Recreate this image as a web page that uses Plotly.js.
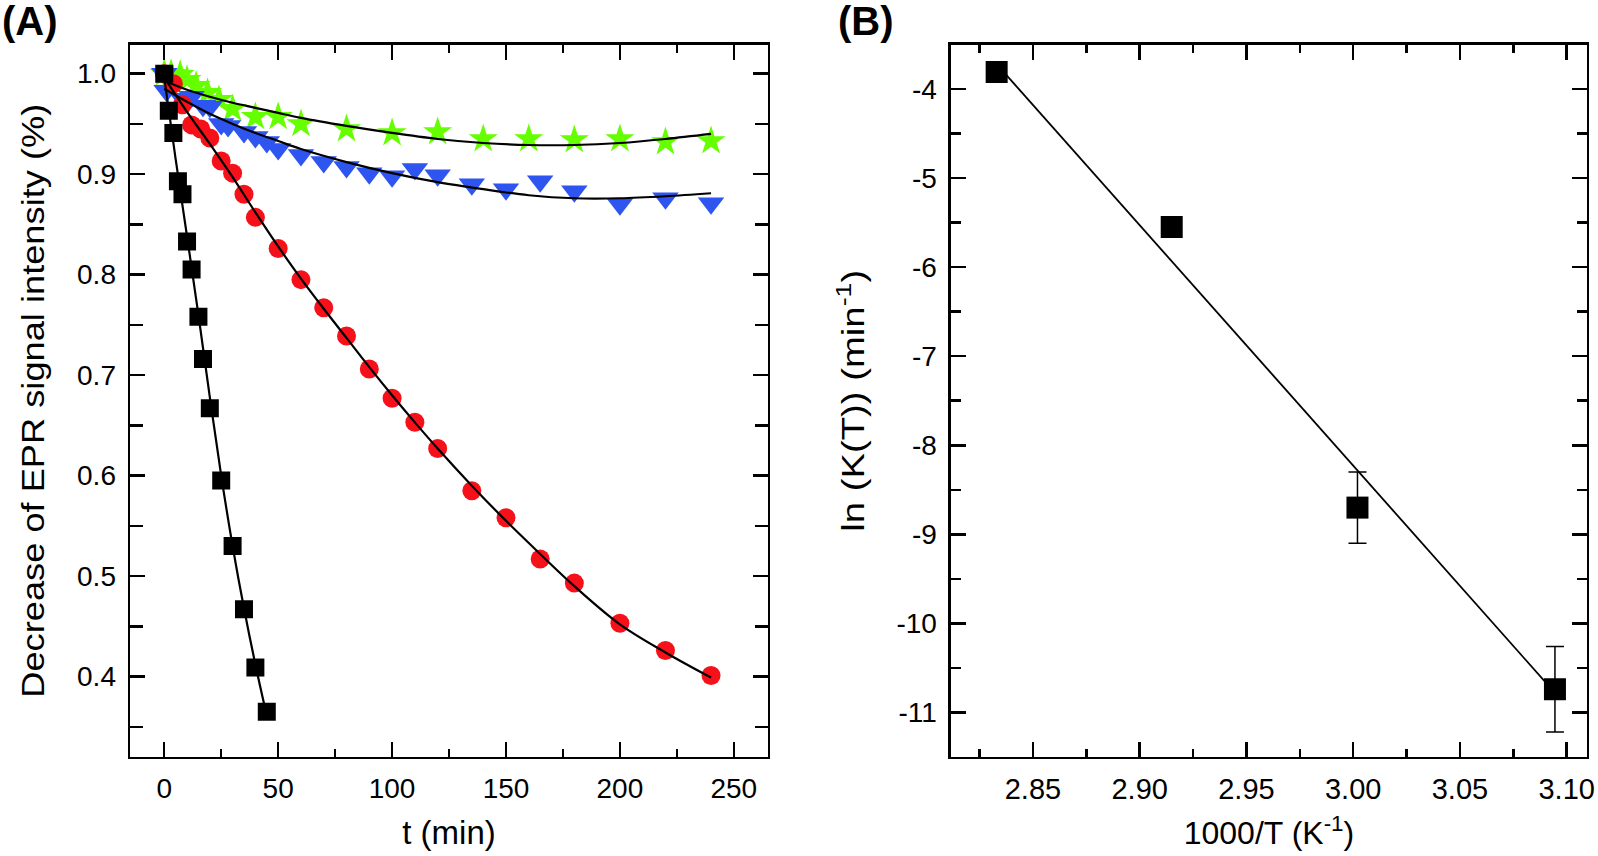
<!DOCTYPE html>
<html><head><meta charset="utf-8">
<script src="https://cdn.plot.ly/plotly-3.0.1.min.js"></script>
<style>html,body{margin:0;padding:0;background:#fff;overflow:hidden}</style>
</head><body><div id="chart" style="width:1598px;height:856px"></div>
<script>
// ---- Panel A data ----
const blackT = [0, 2, 4, 6, 8, 10, 12, 15, 17, 20, 25, 30, 35, 40, 45];
const blackY = [1.0, 0.963, 0.941, 0.893, 0.880, 0.833, 0.805, 0.758, 0.716, 0.667, 0.595, 0.530, 0.467, 0.409, 0.365];
const redT = [0, 4, 8, 12, 16, 20, 25, 30, 35, 40, 50, 60, 70, 80, 90, 100, 110, 120, 135, 150, 165, 180, 200, 220, 240];
const redY = [1.0, 0.99, 0.969, 0.949, 0.945, 0.936, 0.913, 0.901, 0.880, 0.857, 0.826, 0.795, 0.767, 0.739, 0.706, 0.677, 0.653, 0.627, 0.585, 0.558, 0.517, 0.493, 0.453, 0.426, 0.401];
const blueT = [0, 1, 8, 12, 17, 20, 25, 28, 35, 40, 45, 50, 60, 70, 80, 90, 100, 110, 120, 135, 150, 165, 180, 200, 220, 240];
const blueY = [1.0, 0.983, 0.975, 0.977, 0.968, 0.967, 0.950, 0.948, 0.942, 0.937, 0.932, 0.925, 0.919, 0.912, 0.907, 0.901, 0.898, 0.905, 0.899, 0.890, 0.885, 0.893, 0.883, 0.870, 0.876, 0.871];
const greenT = [0, 3, 7, 10, 14, 19, 24, 30, 40, 50, 60, 80, 100, 120, 140, 160, 180, 200, 220, 240];
const greenY = [1.0, 1.0, 0.999, 0.994, 0.988, 0.981, 0.974, 0.965, 0.957, 0.957, 0.950, 0.945, 0.941, 0.942, 0.935, 0.935, 0.934, 0.935, 0.932, 0.933];

// fitted curves
const blackFitT = [0, 5, 10, 15, 20, 25, 30, 35, 40, 44.5];
const blackFitY = [0.996, 0.915, 0.838, 0.760, 0.678, 0.600, 0.530, 0.468, 0.412, 0.366];
const redFitT = [0, 10, 20, 30, 40, 50, 60, 70, 80, 90, 100, 110, 120, 135, 150, 165, 180, 200, 220, 240];
const redFitY = [0.996, 0.962, 0.930, 0.897, 0.862, 0.828, 0.796, 0.766, 0.737, 0.708, 0.680, 0.653, 0.627, 0.590, 0.555, 0.522, 0.490, 0.452, 0.424, 0.399];
const blueFitT = [0, 10, 20, 30, 40, 50, 60, 80, 100, 120, 140, 160, 180, 200, 220, 240];
const blueFitY = [0.985, 0.972, 0.960, 0.950, 0.941, 0.933, 0.925, 0.912, 0.901, 0.892, 0.885, 0.879, 0.876, 0.876, 0.878, 0.881];
const greenFitT = [0, 10, 20, 30, 40, 50, 60, 80, 100, 120, 140, 160, 180, 200, 220, 240];
const greenFitY = [0.993, 0.984, 0.977, 0.971, 0.966, 0.961, 0.956, 0.948, 0.941, 0.935, 0.931, 0.929, 0.929, 0.931, 0.935, 0.940];

// ---- Panel B data ----
const invT = [2.833, 2.915, 3.002, 3.0945];
const lnK = [-3.81, -5.549, -8.70, -10.74];
const lnKerr = [0, 0, 0.40, 0.48];
const lineX = [2.833, 3.0945];
const lineY = [-3.72, -10.78];
const bYTickVals = [-11, -10, -9, -8, -7, -6, -5, -4];
const bYTickText = ['-11', '-10', '-9', '-8', '-7', '-6', '-5', '-4'];

const FONT = 'Liberation Sans, Arial, sans-serif';
const LW = 2.5;

function fitTrace(x, y, xa, ya, w) {
  return {x: x, y: y, xaxis: xa, yaxis: ya, type: 'scatter', mode: 'lines',
          line: {color: '#000', width: w, shape: 'spline'}, hoverinfo: 'skip'};
}

const data = [
  {x: greenT, y: greenY, type: 'scatter', mode: 'markers', xaxis: 'x', yaxis: 'y',
   marker: {symbol: 'star', size: 22, color: '#66ff00'}},
  {x: blueT, y: blueY, type: 'scatter', mode: 'markers', xaxis: 'x', yaxis: 'y',
   marker: {symbol: 'triangle-down', size: 23, color: '#2f55f0'}},
  {x: redT, y: redY, type: 'scatter', mode: 'markers', xaxis: 'x', yaxis: 'y',
   marker: {symbol: 'circle', size: 19, color: '#f5101a'}},
  {x: blackT, y: blackY, type: 'scatter', mode: 'markers', xaxis: 'x', yaxis: 'y',
   marker: {symbol: 'square', size: 18, color: '#000'}},
  fitTrace(greenFitT, greenFitY, 'x', 'y', 2.2),
  fitTrace(blueFitT, blueFitY, 'x', 'y', 2.2),
  fitTrace(redFitT, redFitY, 'x', 'y', 2.2),
  fitTrace(blackFitT, blackFitY, 'x', 'y', 2.2),
  {x: lineX, y: lineY, type: 'scatter', mode: 'lines', xaxis: 'x2', yaxis: 'y2',
   line: {color: '#000', width: 1.8}},
  {x: invT, y: lnK, type: 'scatter', mode: 'markers', xaxis: 'x2', yaxis: 'y2',
   marker: {symbol: 'square', size: 22, color: '#000'},
   error_y: {type: 'data', array: lnKerr, visible: true, color: '#000', thickness: 1.5, width: 9}}
];

function axBase(extra) {
  return Object.assign({
    showline: true, linewidth: LW, linecolor: '#000', mirror: 'allticks',
    ticks: 'inside', tickwidth: LW, tickcolor: '#000', ticklen: 15,
    showgrid: false, zeroline: false, fixedrange: true,
    tickfont: {family: FONT, size: 28, color: '#000'},
  }, extra);
}

const layout = {
  width: 1598, height: 856,
  margin: {l: 0, r: 0, t: 0, b: 0},
  paper_bgcolor: '#fff', plot_bgcolor: '#fff',
  showlegend: false,
  font: {family: FONT, color: '#000'},
  xaxis: axBase({domain: [0.0814, 0.4806], anchor: 'y', range: [-15, 265],
    tick0: 0, dtick: 50, ticklabelstandoff: 5,
    tickfont: {family: FONT, size: 28, color: '#000'},
    minor: {dtick: 25, ticklen: 8, tickwidth: LW, tickcolor: '#000', ticks: 'inside'},
    title: {text: 't (min)', font: {family: FONT, size: 33}, standoff: 18}}),
  yaxis: axBase({domain: [0.1157, 0.948], anchor: 'x', range: [0.32, 1.029],
    tick0: 0, dtick: 0.1, tickformat: '.1f', ticklabelstandoff: 6,
    minor: {dtick: 0.05, ticklen: 13, tickwidth: LW, tickcolor: '#000', ticks: 'inside'},
    title: {text: 'Decrease of EPR signal intensity (%)', font: {family: FONT, size: 32}, standoff: 23}}),
  xaxis2: axBase({domain: [0.5951, 0.9931], anchor: 'y2', range: [2.8116, 3.1095],
    tick0: 2.85, dtick: 0.05, tickformat: '.2f', ticklabelstandoff: 5,
    tickfont: {family: FONT, size: 29, color: '#000'},
    minor: {dtick: 0.025, ticklen: 8, tickwidth: LW, tickcolor: '#000', ticks: 'inside'},
    title: {text: '1000/T (K<sup>-1</sup>)', font: {family: FONT, size: 32}, standoff: 18}}),
  yaxis2: axBase({domain: [0.1157, 0.948], anchor: 'x2', range: [-11.5, -3.5],
    tickmode: 'array', tickvals: bYTickVals, ticktext: bYTickText, ticklabelstandoff: 6,
    minor: {tickmode: 'linear', tick0: -11.5, dtick: 0.5, ticklen: 10, tickwidth: LW, tickcolor: '#000', ticks: 'inside'},
    title: {text: 'ln (K(T)) (min<sup>-1</sup>)', font: {family: FONT, size: 32}, standoff: 22}}),
  annotations: [
    {text: '<b>(A)</b>', xref: 'paper', yref: 'paper', x: 0, y: 1.004, xanchor: 'left', yanchor: 'top',
     showarrow: false, font: {family: FONT, size: 40, color: '#000'}},
    {text: '<b>(B)</b>', xref: 'paper', yref: 'paper', x: 836/1598, y: 1.004, xanchor: 'left', yanchor: 'top',
     showarrow: false, font: {family: FONT, size: 40, color: '#000'}}
  ]
};

Plotly.newPlot('chart', data, layout, {displayModeBar: false, staticPlot: true}).then(function () {
  // the reference's rotated titles are drawn stretched along their reading direction
  const stretch = [['text.ytitle', 594], ['text.y2title', 262]];
  stretch.forEach(function (s) {
    const el = document.querySelector(s[0]);
    if (el) {
      el.setAttribute('textLength', s[1]);
      el.setAttribute('lengthAdjust', 'spacingAndGlyphs');
    }
  });
});
</script>
</body></html>
